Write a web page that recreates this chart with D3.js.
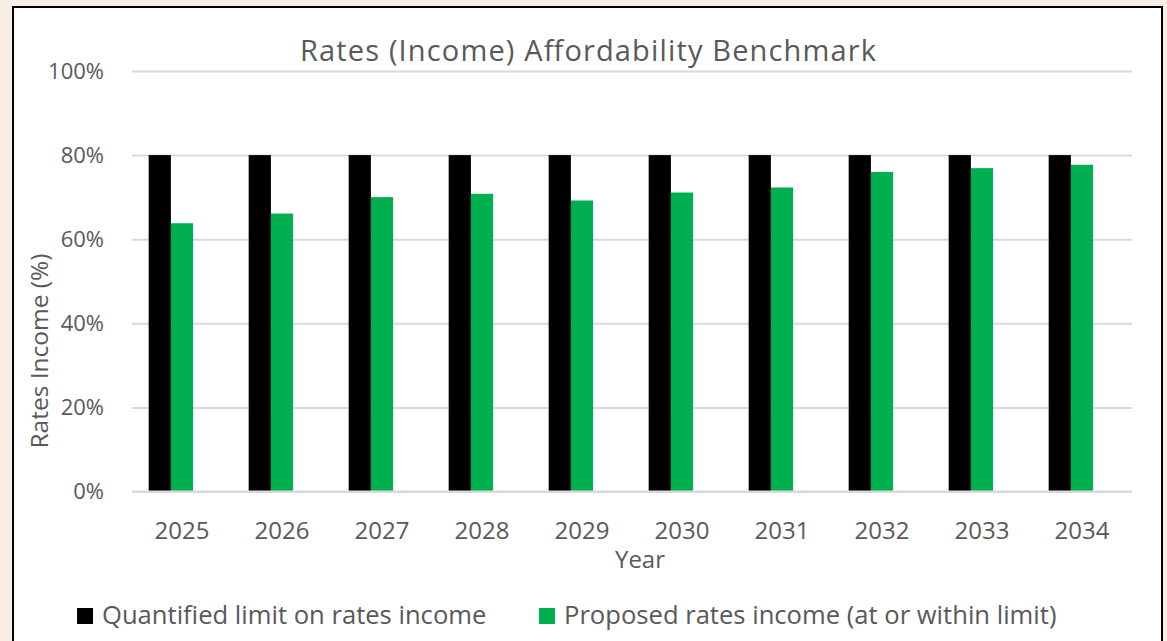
<!DOCTYPE html>
<html>
<head>
<meta charset="utf-8">
<script src="https://cdn.jsdelivr.net/npm/d3@7"></script>
<style>
  html, body { margin: 0; padding: 0; background: #F7EFE5; }
  svg { display: block; }
  text { font-family: "Open Sans", sans-serif; fill: #595959; }
</style>
</head>
<body>
<svg id="chart" width="1167" height="641"></svg>
<script>
const years = ["2025","2026","2027","2028","2029","2030","2031","2032","2033","2034"];
const limitValues = [80, 80, 80, 80, 80, 80, 80, 80, 80, 80];
const proposedValues = [63.8, 66.1, 70.0, 70.8, 69.2, 71.1, 72.3, 76.0, 76.9, 77.7];
const seriesNames = ["Quantified limit on rates income", "Proposed rates income (at or within limit)"];
const seriesColors = ["#000000", "#00B050"];
const yTicks = [0, 20, 40, 60, 80, 100];

const svg = d3.select("#chart");

// chart frame
svg.append("rect").attr("x", 13).attr("y", 7).attr("width", 1149).attr("height", 650)
  .attr("fill", "#FFFFFF").attr("stroke", "#000").attr("stroke-width", 2);

const plot = { left: 132, right: 1132, top: 71, bottom: 491.5 };

const x = d3.scaleBand().domain(years).range([plot.left, plot.right])
  .paddingInner(1/3).paddingOuter(1/6);
const x1 = d3.scaleBand().domain([0, 1]).range([0, x.bandwidth() * 2 / 3]);
const y = d3.scaleLinear().domain([0, 100]).range([plot.bottom, plot.top]);

// gridlines
const yAxis = d3.axisLeft(y).tickValues(yTicks).tickFormat(d => d + "%")
  .tickSize(-(plot.right - plot.left)).tickPadding(28);
const gy = svg.append("g").attr("transform", `translate(${plot.left},0)`).call(yAxis);
gy.select(".domain").remove();
gy.selectAll(".tick line").attr("stroke", "#D9D9D9").attr("stroke-width", 2);
gy.selectAll(".tick text").attr("font-size", 22).attr("fill", "#595959")
  .style("font-family", "'Open Sans', sans-serif");

// bars
const rows = years.map((yr, i) => ({ year: yr, vals: [limitValues[i], proposedValues[i]] }));
const groups = svg.append("g").selectAll("g").data(rows).join("g")
  .attr("transform", d => `translate(${x(d.year)},0)`);
groups.selectAll("rect").data(d => d.vals.map((v, k) => ({ v, k }))).join("rect")
  .attr("x", d => x1(d.k)).attr("width", x1.bandwidth())
  .attr("y", d => y(d.v)).attr("height", d => y(0) - y(d.v))
  .attr("fill", d => seriesColors[d.k]);

// baseline
svg.append("line").attr("x1", plot.left).attr("x2", plot.right)
  .attr("y1", y(0)).attr("y2", y(0)).attr("stroke", "#D9D9D9").attr("stroke-width", 2);

// x axis labels
const xAxis = d3.axisBottom(x).tickSize(0).tickPadding(30);
const gx = svg.append("g").attr("transform", `translate(0,${plot.bottom})`).call(xAxis);
gx.select(".domain").remove();
gx.selectAll(".tick text").attr("font-size", 24).attr("fill", "#595959")
  .style("font-family", "'Open Sans', sans-serif");

// title
svg.append("text").attr("x", 588).attr("y", 61).attr("text-anchor", "middle")
  .attr("font-size", 29).attr("textLength", 576).attr("lengthAdjust", "spacing")
  .text("Rates (Income) Affordability Benchmark");

// axis titles
svg.append("text").attr("x", 640).attr("y", 568).attr("text-anchor", "middle")
  .attr("font-size", 24).text("Year");
svg.append("text").attr("transform", "translate(48,351) rotate(-90)")
  .attr("text-anchor", "middle").attr("font-size", 24.5).text("Rates Income (%)");

// legend
const legendX = [77, 539];
const leg = svg.append("g").selectAll("g").data(seriesNames).join("g")
  .attr("transform", (d, i) => `translate(${legendX[i]},0)`);
leg.append("rect").attr("x", 0).attr("y", 608).attr("width", 16).attr("height", 16)
  .attr("fill", (d, i) => seriesColors[i]);
leg.append("text").attr("x", 25).attr("y", 624).attr("font-size", 25.6).text(d => d);
</script>
</body>
</html>
